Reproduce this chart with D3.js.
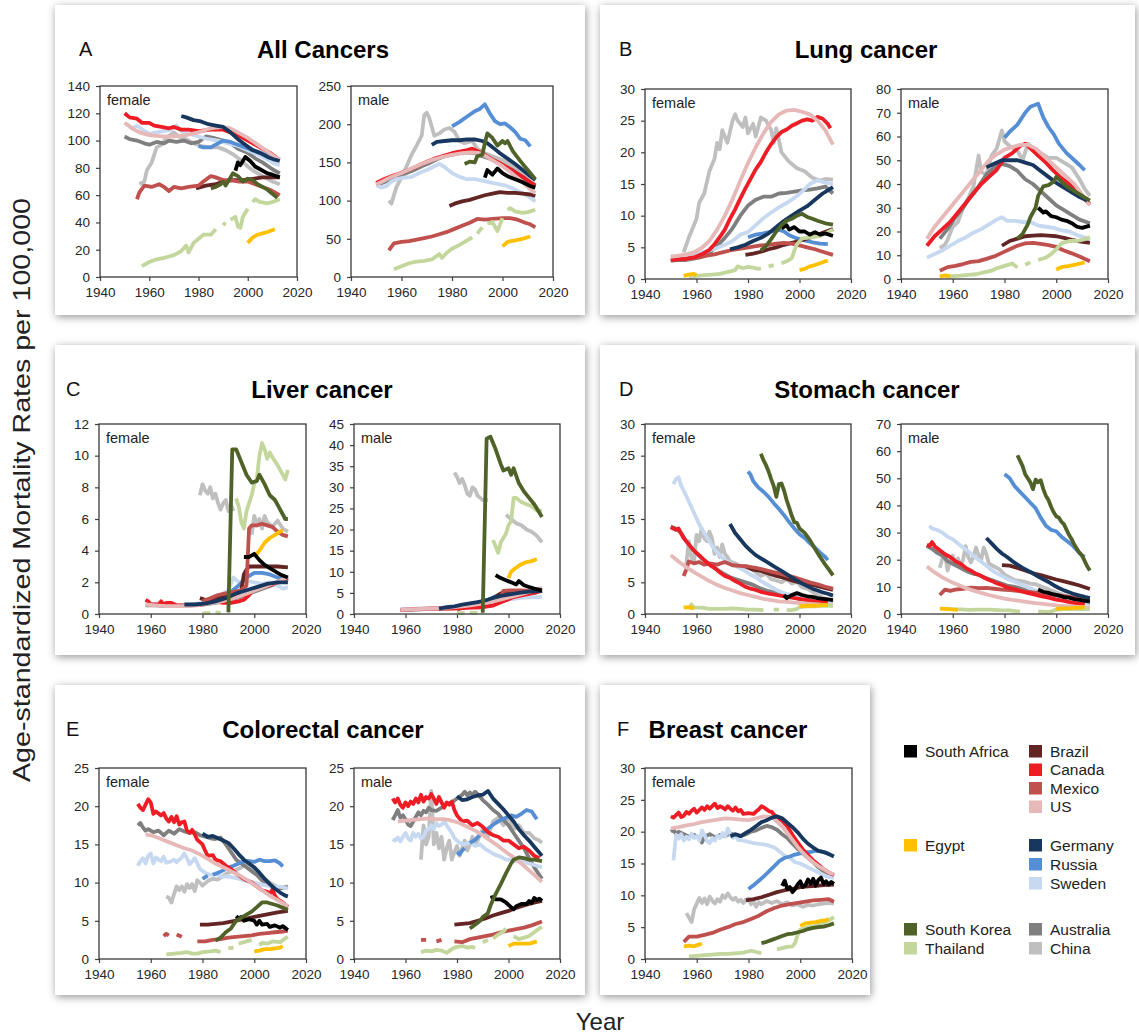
<!DOCTYPE html>
<html>
<head>
<meta charset="utf-8">
<script src="https://cdn.jsdelivr.net/npm/d3@7"></script>
<style>
  body { margin: 0; background: #ffffff; }
  svg { display: block; }
  text { font-family: "Liberation Sans", Arial, Helvetica, sans-serif; }
</style>
</head>
<body>
<svg id="chart" width="1139" height="1035"></svg>
<script>
// ---------------------------------------------------------------
// Countries, colours and shared axis ticks
// ---------------------------------------------------------------
const countries = ["South Africa", "Egypt", "South Korea", "Thailand",
                   "Brazil", "Canada", "Mexico", "US",
                   "Germany", "Russia", "Sweden", "Australia", "China"];
const countryColors = ["#000000", "#ffc000", "#4f6228", "#c3d69b",
                       "#632523", "#ee1c25", "#c0504d", "#e6b9b8",
                       "#17375e", "#558ed5", "#c6d9f1", "#7f7f7f", "#bfbfbf"];
const yearTicks = [1940, 1960, 1980, 2000, 2020];

const ticksAllFemale = [0, 20, 40, 60, 80, 100, 120, 140];
const ticksAllMale = [0, 50, 100, 150, 200, 250];
const ticksLungFemale = [0, 5, 10, 15, 20, 25, 30];
const ticksLungMale = [0, 10, 20, 30, 40, 50, 60, 70, 80];
const ticksLiverFemale = [0, 2, 4, 6, 8, 10, 12];
const ticksLiverMale = [0, 5, 10, 15, 20, 25, 30, 35, 40, 45];
const ticksStomachFemale = [0, 5, 10, 15, 20, 25, 30];
const ticksStomachMale = [0, 10, 20, 30, 40, 50, 60, 70];
const ticksColorectal = [0, 5, 10, 15, 20, 25];
const ticksBreast = [0, 5, 10, 15, 20, 25, 30];

// Series are flat [year, rate, year, rate, ...]; a null rate marks a gap.
// ---------------------------------------------------------------
// A. All cancers
// ---------------------------------------------------------------
const allFemale = {
  "South Africa": [1995,78, 1996,84, 1997,82, 1999,88, 2001,85, 2003,81, 2005,79, 2008,76, 2010,75, 2013,73],
  "Egypt": [2000,25, 2002,29, 2004,31, 2006,32, 2008,33, 2011,35],
  "South Korea": [1985,65, 1987,66, 1989,68, 1990,70, 1991,67, 1993,73, 1994,76, 1996,74, 1998,70, 2000,72, 2002,71, 2004,68, 2006,66, 2008,64, 2010,61, 2012,58],
  "Thailand": [1957,8, 1960,11, 1963,13, 1966,14, 1968,15, 1970,16, 1973,19, 1975,23, 1976,18, 1978,25, 1980,28, 1982,31, 1985,31, 1987,35, 1988,null, 1990,38, 1991,40, 1992,null, 1993,42, 1995,44, 1996,37, 1997,36, 1998,44, 2000,50, 2001,null, 2002,55, 2003,57, 2005,55, 2008,54, 2010,55, 2013,57],
  "Brazil": [1979,65, 1983,67, 1987,68, 1990,70, 1994,71, 1998,71, 2002,72, 2006,73, 2010,73, 2013,73],
  "Canada": [1950,120, 1952,117, 1955,116, 1957,113, 1960,113, 1962,111, 1965,110, 1968,109, 1970,110, 1973,108, 1976,108, 1980,107, 1985,108, 1990,108, 1993,106, 1996,104, 2000,100, 2003,97, 2006,94, 2009,91, 2012,87],
  "Mexico": [1955,57, 1956,62, 1958,67, 1961,66, 1964,68, 1966,66, 1968,63, 1970,66, 1973,65, 1976,66, 1980,67, 1982,70, 1985,74, 1987,73, 1990,71, 1993,71, 1996,70, 2000,70, 2003,68, 2006,66, 2009,64, 2013,60],
  "US": [1950,113, 1953,109, 1956,106, 1960,104, 1965,103, 1970,103, 1975,104, 1980,106, 1985,109, 1990,110, 1993,109, 1996,106, 2000,102, 2004,97, 2008,92, 2011,88, 2013,86],
  "Germany": [1973,118, 1975,117, 1978,115, 1981,114, 1984,112, 1987,111, 1990,110, 1993,106, 1996,101, 1999,97, 2002,93, 2005,91, 2008,88, 2011,86, 2013,85],
  "Russia": [1980,96, 1982,95, 1985,95, 1987,97, 1990,100, 1993,99, 1996,97, 1999,95, 2002,93, 2005,91, 2008,89, 2011,88, 2013,86],
  "Sweden": [1951,112, 1953,109, 1955,111, 1958,107, 1960,105, 1963,106, 1966,107, 1969,108, 1971,111, 1973,107, 1976,105, 1980,103, 1984,101, 1988,100, 1992,98, 1996,96, 2000,93, 2004,90, 2008,86, 2011,83, 2013,82],
  "Australia": [1950,103, 1952,101, 1955,100, 1958,98, 1960,97, 1963,99, 1966,98, 1968,100, 1971,99, 1974,100, 1977,98, 1980,99, 1983,103, 1986,102, 1990,100, 1993,98, 1996,94, 2000,91, 2003,87, 2006,84, 2010,79, 2013,76],
  "China": [1956,68, 1958,70, 1959,78, 1961,84, 1963,95, 1965,97, 1967,102, 1970,106, 1972,103, 1975,101, 1978,98, 1981,96, 1985,95, 1988,95, 1991,93, 1994,90, 1997,86, 2000,81, 2003,77, 2006,74, 2010,70, 2013,68]
};
const allMale = {
  "South Africa": [1993,130, 1994,140, 1996,134, 1998,142, 2000,136, 2002,132, 2005,128, 2008,124, 2011,119, 2013,117],
  "Egypt": [2000,40, 2002,46, 2005,48, 2008,50, 2011,53],
  "South Korea": [1985,148, 1987,151, 1989,150, 1990,158, 1992,160, 1993,175, 1994,188, 1996,182, 1998,172, 2000,178, 2001,175, 2002,178, 2004,165, 2007,152, 2010,140, 2013,128],
  "Thailand": [1957,10, 1960,14, 1963,18, 1966,20, 1969,21, 1972,23, 1975,30, 1976,25, 1978,32, 1980,37, 1983,42, 1985,46, 1988,52, 1989,null, 1990,57, 1992,65, 1993,null, 1994,70, 1996,72, 1998,60, 2000,77, 2001,null, 2002,88, 2003,90, 2005,86, 2008,84, 2010,85, 2013,88],
  "Brazil": [1979,93, 1981,96, 1984,99, 1987,101, 1990,104, 1993,107, 1996,109, 1999,111, 2002,110, 2005,110, 2008,109, 2011,108, 2013,106],
  "Canada": [1950,123, 1953,128, 1956,132, 1959,135, 1962,139, 1965,143, 1968,148, 1971,152, 1974,156, 1977,159, 1980,162, 1983,164, 1986,166, 1988,168, 1990,165, 1993,160, 1996,154, 1999,149, 2002,143, 2005,137, 2008,131, 2011,124, 2013,120],
  "Mexico": [1955,35, 1957,44, 1960,46, 1963,47, 1966,49, 1969,51, 1972,53, 1975,56, 1978,59, 1981,63, 1984,67, 1987,71, 1990,76, 1993,75, 1996,76, 2000,77, 2003,77, 2006,75, 2009,71, 2011,69, 2013,65],
  "US": [1950,121, 1953,126, 1956,131, 1960,136, 1964,142, 1968,148, 1972,153, 1976,157, 1980,160, 1984,162, 1988,163, 1991,162, 1994,157, 1997,151, 2000,145, 2004,135, 2008,124, 2011,115, 2013,110],
  "Germany": [1972,173, 1974,177, 1977,178, 1980,179, 1983,179, 1986,180, 1989,180, 1992,178, 1994,175, 1996,170, 1999,162, 2002,155, 2005,148, 2008,140, 2011,132, 2013,127],
  "Russia": [1980,197, 1983,203, 1986,210, 1989,217, 1991,220, 1993,226, 1995,214, 1997,204, 1999,200, 2001,201, 2003,196, 2005,190, 2007,181, 2009,179, 2011,171],
  "Sweden": [1950,120, 1952,117, 1954,119, 1956,125, 1958,128, 1961,130, 1964,131, 1967,136, 1970,140, 1973,145, 1975,148, 1977,144, 1980,136, 1983,131, 1986,128, 1989,128, 1992,126, 1995,124, 1998,122, 2001,120, 2004,116, 2007,111, 2010,106, 2013,99],
  "Australia": [1950,120, 1953,124, 1956,128, 1959,131, 1962,136, 1965,140, 1968,145, 1971,149, 1974,154, 1977,158, 1980,160, 1983,162, 1986,163, 1989,162, 1992,158, 1995,155, 1998,150, 2001,145, 2004,140, 2007,133, 2010,125, 2013,118],
  "China": [1955,100, 1956,96, 1958,118, 1960,130, 1962,145, 1964,160, 1966,172, 1968,185, 1969,212, 1970,215, 1971,208, 1973,185, 1975,188, 1977,193, 1979,195, 1981,190, 1983,178, 1985,175, 1988,178, 1990,168, 1993,162, 1996,158, 2000,153, 2004,145, 2008,134, 2011,125, 2013,120]
};

// ---------------------------------------------------------------
// B. Lung cancer
// ---------------------------------------------------------------
const lungFemale = {
  "South Africa": [1993,8, 1995,8.5, 1996,7.8, 1998,8.2, 2000,7.5, 2002,7.5, 2004,7.0, 2006,7.4, 2008,7.0, 2010,7.2, 2013,6.8],
  "Egypt": [1955,0.5, 1957,0.7, 1959,0.8, 1960,0.6, 1961,null, 2000,1.4, 2002,1.6, 2004,2.0, 2006,2.2, 2008,2.5, 2010,2.8, 2011,2.9],
  "South Korea": [1985,4.5, 1987,5.2, 1989,6.3, 1991,7.5, 1993,8.5, 1995,9.2, 1997,9.5, 1999,10, 2001,10.3, 2003,9.8, 2005,9.5, 2007,9.2, 2010,8.8, 2013,8.6],
  "Thailand": [1957,0.3, 1960,0.5, 1963,0.6, 1966,0.7, 1969,0.8, 1972,1.1, 1975,1.4, 1976,2.0, 1978,1.7, 1980,1.9, 1982,1.8, 1984,1.6, 1985,1.7, 1986,null, 1988,2.0, 1990,2.2, 1991,null, 1993,2.5, 1995,2.8, 1997,3.3, 1998,4.5, 1999,5.5, 2001,6.4, 2003,6.5, 2005,6.6, 2008,6.8, 2010,7.2, 2013,7.8],
  "Brazil": [1979,3.8, 1982,4.0, 1985,4.3, 1988,4.7, 1991,5.0, 1994,5.4, 1997,5.7, 2000,6.0, 2003,6.4, 2006,6.8, 2009,7.3, 2013,7.9],
  "Canada": [1950,3.0, 1953,3.1, 1956,3.2, 1959,3.4, 1962,3.9, 1965,4.6, 1967,5.5, 1969,6.6, 1971,7.8, 1973,9.5, 1975,11.0, 1977,12.7, 1979,14.3, 1981,15.8, 1983,17.3, 1985,18.5, 1987,20.0, 1989,21.3, 1991,22.4, 1993,23.2, 1995,23.6, 1997,24.2, 1999,24.6, 2001,25.0, 2003,25.2, 2005,25.0, 2007,25.6, 2009,25.3, 2011,24.5, 2012,23.8],
  "Mexico": [1955,3.0, 1958,3.3, 1961,3.4, 1964,3.7, 1967,3.9, 1970,4.2, 1973,4.5, 1976,4.7, 1979,4.9, 1982,5.1, 1985,5.3, 1988,5.4, 1991,5.6, 1994,5.7, 1997,5.6, 2000,5.3, 2003,5.0, 2006,4.7, 2009,4.3, 2013,3.8],
  "US": [1950,3.5, 1953,3.7, 1956,3.9, 1959,4.2, 1962,4.9, 1965,6.0, 1968,7.8, 1971,10.0, 1974,12.6, 1977,15.5, 1980,18.3, 1983,20.8, 1986,23.0, 1989,24.8, 1992,26.0, 1995,26.6, 1998,26.7, 2001,26.4, 2004,26.0, 2007,25.0, 2010,23.5, 2013,21.2],
  "Germany": [1973,4.7, 1976,5.0, 1979,5.4, 1982,6.0, 1985,6.5, 1988,7.2, 1991,8.2, 1994,9.2, 1997,10.0, 2000,10.8, 2003,11.5, 2006,12.5, 2009,13.5, 2011,14.0, 2013,14.5],
  "Russia": [1980,6.6, 1983,7.0, 1986,7.2, 1989,7.5, 1992,7.8, 1994,7.5, 1996,6.9, 1999,6.4, 2002,6.1, 2005,5.8, 2008,5.6, 2011,5.5],
  "Sweden": [1950,3.6, 1953,3.5, 1956,3.8, 1959,4.0, 1962,4.2, 1965,4.5, 1968,4.9, 1971,5.4, 1974,6.0, 1977,7.0, 1980,7.4, 1983,8.5, 1986,9.6, 1989,10.5, 1992,11.3, 1995,12.0, 1998,12.8, 2001,13.8, 2004,15.0, 2007,15.6, 2010,15.2, 2013,15.0],
  "Australia": [1950,2.9, 1953,3.0, 1956,3.0, 1959,3.2, 1962,3.5, 1965,4.1, 1968,5.2, 1971,6.5, 1974,8.0, 1977,10.0, 1980,11.6, 1983,12.5, 1986,13.0, 1989,13.0, 1992,13.5, 1995,13.6, 1998,13.8, 2001,14.0, 2004,14.1, 2007,14.3, 2010,14.6, 2013,13.5],
  "China": [1955,4.2, 1957,6.5, 1958,7.5, 1960,9.5, 1961,12, 1963,13.5, 1965,17, 1967,19, 1968,21.5, 1969,20.5, 1970,23.5, 1972,21.5, 1974,25, 1975,26, 1976,25, 1978,24, 1979,25.5, 1980,23, 1982,24.5, 1983,22.5, 1985,25.5, 1987,25, 1989,23.5, 1990,21.5, 1991,23.8, 1993,20, 1996,18.5, 1999,17.5, 2002,17, 2005,16, 2008,15.5, 2010,15.8, 2013,15.7]
};
const lungMale = {
  "South Africa": [1993,30, 1995,28, 1996,28.5, 1998,26.5, 2000,26, 2002,25, 2004,24.5, 2006,23.5, 2008,22, 2010,21.5, 2013,22.5],
  "Egypt": [1955,1.0, 1957,1.5, 1959,1.2, 1960,null, 2000,4.0, 2002,5.0, 2005,5.5, 2008,6.2, 2011,7.0],
  "South Korea": [1985,17, 1987,19, 1989,23, 1990,26, 1992,30, 1993,35, 1995,39, 1997,39.5, 1999,41, 2000,43, 2002,41, 2004,39, 2007,37, 2010,35, 2013,33],
  "Thailand": [1957,1.0, 1960,1.2, 1963,1.4, 1966,1.7, 1969,2.0, 1972,2.8, 1975,3.5, 1977,4.5, 1980,5.5, 1983,6.5, 1985,4.8, 1986,null, 1988,6.0, 1990,7.0, 1991,null, 1993,8.0, 1996,9.0, 1998,10.5, 2000,12.5, 2002,15, 2005,16, 2008,16, 2010,16.5, 2013,17.5],
  "Brazil": [1979,14, 1982,16, 1985,17, 1988,18, 1991,18.3, 1994,18.5, 1997,18.3, 2000,18, 2003,17.3, 2006,16.5, 2009,15.8, 2013,15.2],
  "Canada": [1950,14, 1953,18, 1956,21, 1959,24, 1962,28, 1965,32, 1968,36, 1971,40, 1974,43, 1977,46, 1980,51, 1983,53, 1986,56, 1988,57, 1990,55, 1993,52, 1996,49, 1999,45.5, 2002,42.5, 2005,40, 2008,36.5, 2011,33.5, 2013,31.5],
  "Mexico": [1955,3.5, 1958,5, 1961,5.5, 1964,6.3, 1967,7.2, 1970,7.5, 1973,8.5, 1976,9.5, 1979,11, 1982,12.5, 1985,14, 1988,15, 1991,15.2, 1994,14.8, 1997,14.3, 2000,13.5, 2003,12, 2006,10.8, 2009,9.5, 2013,7.5],
  "US": [1950,17, 1953,22, 1956,26, 1959,30, 1962,34, 1965,38, 1968,42, 1971,46, 1974,50, 1977,52.5, 1980,54.5, 1983,55.5, 1986,56.5, 1989,56.5, 1992,55, 1995,52, 1998,49, 2001,46, 2004,43, 2007,40, 2010,35.5, 2013,31],
  "Germany": [1973,47, 1976,48.5, 1979,50, 1982,50, 1985,50, 1988,49, 1991,48, 1994,45.5, 1997,43, 2000,40.5, 2003,38.5, 2006,36.5, 2009,34.5, 2012,33],
  "Russia": [1980,59.5, 1982,62, 1985,65, 1988,70, 1990,72.5, 1993,73.8, 1995,68, 1997,64, 1999,61, 2001,57, 2004,53, 2007,50, 2009,48, 2011,45.8],
  "Sweden": [1950,9, 1953,10.5, 1956,12, 1959,14, 1962,16, 1965,17.5, 1968,19.5, 1971,21, 1974,23, 1977,25, 1979,26, 1981,24.5, 1984,24.5, 1987,24, 1990,24, 1993,22.5, 1996,22, 1999,21.5, 2002,20.5, 2005,20, 2008,18.5, 2011,17.5, 2013,16.5],
  "Australia": [1955,17, 1958,21, 1961,26, 1964,30, 1967,35, 1970,39, 1973,44, 1976,47, 1979,48.5, 1982,47.5, 1985,45.5, 1988,42, 1991,40, 1994,37, 1997,34, 2000,31, 2003,29, 2006,27, 2009,25, 2013,23.5],
  "China": [1955,13, 1957,14.5, 1958,16.5, 1960,22, 1962,24, 1964,30, 1966,34, 1968,39, 1970,52, 1971,45, 1973,44, 1975,52, 1977,55, 1979,62.5, 1980,58, 1982,56, 1985,54, 1987,50, 1989,57, 1991,55, 1994,53, 1997,51, 2000,51, 2003,49, 2006,47, 2009,42, 2011,38, 2013,35]
};

// ---------------------------------------------------------------
// C. Liver cancer
// ---------------------------------------------------------------
const liverFemale = {
  "South Africa": [1996,3.6, 1998,3.6, 2000,3.8, 2002,3.4, 2004,3.1, 2006,2.9, 2008,2.7, 2010,2.5, 2013,2.3],
  "Egypt": [2000,3.6, 2002,4.0, 2004,4.5, 2006,4.8, 2008,5.0, 2010,5.2, 2011,5.3],
  "South Korea": [1990,0.1, 1991.5,10.4, 1993,10.4, 1995,9.6, 1997,8.8, 1999,8.3, 2001,8.4, 2002,8.8, 2004,8.2, 2006,7.5, 2008,7.2, 2010,6.6, 2012,6.0, 2013,6.0],
  "Thailand": [1980,0.05, 1983,0.05, 1984,null, 1985,0.1, 1987,0.05, 1988,null, 1993,7.3, 1994,6.8, 1995,5.8, 1996,5.4, 1997,6.5, 1998,7.0, 1999,7.5, 2000,8.2, 2001,8.5, 2002,10.0, 2003,10.8, 2004,10.4, 2005,9.8, 2006,10.2, 2007,9.9, 2009,9.4, 2011,8.8, 2012,8.5, 2013,9.1],
  "Brazil": [1979,1.0, 1981,0.9, 1983,0.8, 1985,1.0, 1988,1.1, 1991,1.2, 1994,1.3, 1995,1.5, 1996,2.5, 1997,2.8, 1998,3.0, 2000,3.0, 2003,3.0, 2006,3.0, 2009,3.0, 2013,2.95],
  "Canada": [1958,0.9, 1959,0.8, 1960,0.6, 1963,0.6, 1964,0.8, 1965,0.6, 1966,0.7, 1968,0.7, 1970,0.55, 1975,0.55, 1980,0.6, 1985,0.8, 1988,0.7, 1991,0.7, 1994,0.8, 1996,0.9, 1998,1.2, 2000,1.6, 2003,1.7, 2006,1.8, 2009,2.0, 2013,2.3],
  "Mexico": [1980,0.8, 1983,1.0, 1986,1.2, 1989,1.3, 1992,1.4, 1995,1.5, 1997,1.8, 1998,5.4, 1999,5.6, 2001,5.6, 2003,5.7, 2005,5.6, 2007,5.5, 2009,5.2, 2011,5.0, 2013,4.9],
  "US": [1958,0.6, 1962,0.55, 1966,0.5, 1970,0.5, 1974,0.5, 1978,0.55, 1982,0.65, 1986,0.75, 1990,0.9, 1994,1.1, 1998,1.35, 2002,1.6, 2006,1.85, 2010,2.1, 2013,2.35],
  "Germany": [1973,0.6, 1977,0.6, 1981,0.65, 1985,0.8, 1989,1.0, 1993,1.3, 1997,1.5, 2001,1.7, 2005,1.9, 2009,2.0, 2013,2.0],
  "Russia": [1980,0.7, 1984,0.9, 1988,1.1, 1991,1.4, 1994,1.8, 1997,2.3, 2000,2.6, 2003,2.6, 2006,2.5, 2009,2.3, 2011,2.2],
  "Sweden": [1958,0.7, 1960,0.6, 1962,0.65, 1965,0.6, 1970,0.55, 1975,0.6, 1980,0.7, 1984,0.9, 1987,1.2, 1990,1.5, 1992,2.3, 1994,2.0, 1997,2.1, 2000,2.0, 2003,1.9, 2006,2.0, 2009,1.8, 2011,1.6, 2013,1.7],
  "Australia": [1958,0.55, 1962,0.55, 1966,0.5, 1970,0.5, 1975,0.55, 1980,0.6, 1985,0.7, 1990,0.85, 1995,1.1, 2000,1.4, 2005,1.7, 2010,2.0, 2013,2.2],
  "China": [1979,7.5, 1980,8.2, 1981,7.8, 1982,7.6, 1983,8.0, 1984,7.3, 1985,7.6, 1986,7.0, 1987,6.6, 1988,7.0, 1989,7.2, 1990,6.5, 1991,6.9, 1992,6.5, 1993,null, 1999,5.0, 2000,6.2, 2001,5.6, 2002,6.0, 2003,5.4, 2004,6.2, 2005,5.8, 2007,5.5, 2009,5.9, 2011,5.4, 2013,5.2]
};
const liverMale = {
  "South Africa": [1995,9.2, 1997,8.5, 1999,8.0, 2001,7.5, 2003,7.0, 2004,7.8, 2006,6.8, 2008,6.4, 2010,6.0, 2013,5.6],
  "Egypt": [2000,8.5, 2001,10, 2003,11, 2005,11.8, 2007,12.3, 2009,12.5, 2011,13],
  "South Korea": [1990,0.3, 1991.5,41.5, 1993,42, 1995,39, 1997,35.5, 1998,34, 2000,34.5, 2001,33, 2002,34.5, 2004,31, 2006,29, 2008,27.5, 2010,26, 2013,23],
  "Thailand": [1980,0.2, 1983,0.2, 1984,null, 1985,0.3, 1988,0.2, 1989,null, 1994,17.5, 1996,14.5, 1997,17, 1999,19, 2000,21, 2001,22, 2002,27.5, 2003,27.5, 2005,26.5, 2007,26, 2009,25.5, 2011,24.5, 2013,24.5],
  "Brazil": [1979,1.5, 1983,2.0, 1987,2.5, 1991,3.0, 1994,3.5, 1996,4.5, 1998,5.2, 2001,5.5, 2005,5.5, 2009,5.5, 2013,5.5],
  "Canada": [1958,1.0, 1962,1.1, 1966,1.2, 1970,1.3, 1974,1.3, 1978,1.3, 1982,1.4, 1986,1.5, 1990,1.6, 1994,2.0, 1998,3.0, 2002,4.0, 2006,4.5, 2010,5.0, 2013,5.5],
  "Mexico": [1980,1.0, 1983,1.6, 1986,2.0, 1989,2.5, 1992,2.8, 1995,3.2, 1997,3.8, 1998,5.5, 2001,5.6, 2005,5.6, 2009,5.5, 2013,5.4],
  "US": [1958,1.0, 1962,1.1, 1966,1.2, 1970,1.3, 1974,1.4, 1978,1.6, 1982,1.8, 1986,2.1, 1990,2.5, 1994,3.0, 1998,3.6, 2002,4.2, 2006,4.9, 2010,5.6, 2013,6.2],
  "Germany": [1973,1.3, 1976,1.6, 1979,1.8, 1982,2.2, 1985,2.5, 1988,2.8, 1991,3.2, 1994,3.8, 1997,4.3, 2000,4.6, 2004,5.0, 2008,5.3, 2013,5.5],
  "Russia": [1980,1.5, 1983,2.0, 1986,2.5, 1989,2.8, 1992,3.3, 1995,4.2, 1998,4.8, 2001,5.2, 2004,5.4, 2008,5.3, 2011,5.0],
  "Sweden": [1958,1.2, 1962,1.2, 1966,1.3, 1970,1.3, 1975,1.4, 1980,1.6, 1985,2.0, 1990,2.5, 1995,3.0, 2000,3.4, 2005,3.8, 2010,4.0, 2013,4.0],
  "Australia": [1958,1.0, 1962,1.0, 1966,1.1, 1970,1.2, 1975,1.3, 1980,1.4, 1985,1.7, 1990,2.2, 1995,2.8, 2000,3.5, 2005,4.4, 2010,5.1, 2013,5.6],
  "China": [1979,33.5, 1980,32.5, 1981,31, 1982,32, 1983,30.5, 1984,28.5, 1985,28, 1986,30, 1987,29.5, 1988,28, 1989,27.5, 1990,27, 1991,27, 1992,27, 1993,null, 1999,23.5, 2001,22.5, 2003,21.5, 2005,21, 2007,20, 2009,19.5, 2011,18.5, 2013,17]
};

// ---------------------------------------------------------------
// D. Stomach cancer
// ---------------------------------------------------------------
const stomachFemale = {
  "South Africa": [1994,3.0, 1995,2.5, 1997,3.0, 1999,3.3, 2001,3.0, 2003,2.8, 2005,2.7, 2007,2.5, 2009,2.4, 2011,2.3, 2013,2.2],
  "Egypt": [1955,1.0, 1957,1.1, 1959,0.9, 1960,null, 2000,1.2, 2003,1.3, 2006,1.3, 2009,1.4, 2011,1.4],
  "South Korea": [1985,25.3, 1986,24.3, 1987,23.5, 1988,22.5, 1989,21.3, 1990,20.2, 1991,18.5, 1992,20.5, 1993,20.6, 1994,19.5, 1995,18, 1996,16.8, 1997,15.5, 1998,14.5, 1999,14.4, 2000,13.5, 2002,12.8, 2004,11.7, 2006,10.3, 2008,9, 2010,7.8, 2012,6.7, 2013,6.1],
  "Thailand": [1957,0.8, 1958,1.5, 1959,1.0, 1962,1.0, 1965,0.8, 1968,0.8, 1971,0.8, 1974,0.9, 1977,0.8, 1980,0.7, 1983,0.7, 1986,0.6, 1987,null, 1990,0.7, 1992,0.7, 1993,null, 1995,0.6, 1997,0.6, 1999,0.8, 2000,1.1, 2003,1.2, 2006,1.2, 2009,1.3, 2013,1.3],
  "Brazil": [1979,7.5, 1982,7.0, 1985,6.8, 1988,6.4, 1991,6.0, 1994,5.7, 1997,5.3, 2000,5.0, 2003,4.8, 2006,4.5, 2009,4.2, 2013,3.8],
  "Canada": [1950,13.7, 1952,13.3, 1953,13.5, 1955,12.0, 1957,11.0, 1959,10.0, 1961,9.3, 1963,8.5, 1965,7.8, 1967,7.3, 1969,6.6, 1971,6.0, 1973,5.7, 1975,5.2, 1977,4.8, 1979,4.3, 1981,4.0, 1983,3.8, 1985,3.5, 1988,3.2, 1991,3.0, 1994,2.8, 1997,2.6, 2000,2.4, 2003,2.2, 2006,2.0, 2009,1.9, 2011,1.8],
  "Mexico": [1955,6.0, 1956,7.0, 1957,8.3, 1959,8.0, 1961,8.2, 1963,7.8, 1965,8.0, 1968,7.8, 1971,8.2, 1974,7.7, 1977,7.6, 1980,7.5, 1983,7.3, 1986,7.0, 1989,6.7, 1992,6.4, 1995,6.1, 1998,5.8, 2001,5.4, 2004,5.0, 2007,4.7, 2010,4.3, 2013,4.0],
  "US": [1950,9.3, 1953,8.3, 1956,7.4, 1959,6.6, 1962,5.9, 1965,5.2, 1968,4.6, 1971,4.1, 1974,3.7, 1977,3.3, 1980,3.0, 1983,2.7, 1986,2.4, 1989,2.2, 1992,2.0, 1995,1.9, 1998,1.8, 2001,1.7, 2004,1.6, 2007,1.5, 2010,1.4, 2013,1.4],
  "Germany": [1973,14.2, 1975,12.8, 1977,11.8, 1979,10.8, 1981,10.0, 1983,9.3, 1985,8.8, 1987,8.3, 1989,7.8, 1991,7.3, 1993,6.8, 1995,6.3, 1997,5.8, 1999,5.3, 2001,4.8, 2003,4.4, 2005,4.0, 2007,3.7, 2009,3.4, 2011,3.2, 2013,2.9],
  "Russia": [1980,22.5, 1981,22.0, 1982,21.0, 1984,20.0, 1986,19.3, 1988,18.5, 1990,17.5, 1992,16.6, 1994,15.6, 1996,14.5, 1998,13.5, 2000,12.6, 2002,12.0, 2004,11.2, 2006,10.5, 2008,9.7, 2010,9.0, 2011,8.5],
  "Sweden": [1951,20.5, 1952,21.3, 1953,21.6, 1954,20.3, 1955,19.5, 1957,17.8, 1959,16.0, 1961,14.2, 1963,12.8, 1965,11.5, 1967,10.2, 1969,9.3, 1971,8.5, 1973,8.0, 1975,7.6, 1977,7.2, 1979,6.8, 1981,6.2, 1983,5.8, 1985,5.2, 1988,4.5, 1991,3.8, 1994,3.3, 1997,3.0, 2000,2.7, 2003,2.4, 2006,2.1, 2009,1.9, 2013,1.7],
  "Australia": [1950,13.8, 1952,13.5, 1954,12.8, 1956,11.5, 1958,10.5, 1960,9.6, 1962,8.8, 1964,8.2, 1966,7.5, 1968,7.0, 1970,6.5, 1973,5.8, 1976,5.4, 1979,5.0, 1982,4.6, 1985,4.0, 1988,3.6, 1991,3.3, 1994,3.0, 1997,2.7, 2000,2.4, 2003,2.2, 2006,2.0, 2010,1.8, 2013,1.7],
  "China": [1956,7.8, 1957,11.5, 1958,9.0, 1959,8.0, 1960,12.5, 1961,11.5, 1962,13.5, 1963,12.0, 1964,11.5, 1965,13.0, 1966,12.0, 1967,9.5, 1968,10.5, 1969,9.0, 1970,11.0, 1971,9.5, 1972,9.0, 1973,8.3, 1975,8.0, 1977,7.5, 1979,7.6, 1981,7.2, 1983,6.6, 1985,6.0, 1987,6.4, 1989,5.5, 1991,5.3, 1993,5.0, 1995,5.5, 1997,4.8, 1999,5.1, 2001,4.2, 2003,4.0, 2005,3.5, 2007,3.0, 2009,2.6, 2011,2.3, 2013,2.0]
};
const stomachMale = {
  "South Africa": [1993,9.0, 1995,8.2, 1997,7.8, 1999,7.2, 2001,6.8, 2003,6.2, 2005,6.0, 2007,5.5, 2009,5.2, 2011,4.8, 2013,4.6],
  "Egypt": [1955,2.0, 1957,1.9, 1959,1.7, 1962,1.5, 1963,null, 2000,2.0, 2003,2.1, 2006,2.2, 2009,2.4, 2011,2.5],
  "South Korea": [1985,58.5, 1986,56.5, 1987,54.5, 1988,51.5, 1989,50, 1990,48.5, 1991,46, 1992,49.5, 1993,48.5, 1994,49.3, 1995,46, 1996,43.5, 1997,42, 1998,39.5, 1999,37.5, 2000,36, 2001,35.5, 2002,34, 2003,33, 2004,31, 2005,29, 2006,27.5, 2007,25.5, 2008,24, 2009,22.5, 2010,21.5, 2011,19.5, 2012,17.5, 2013,16],
  "Thailand": [1957,1.5, 1958,2.0, 1960,1.8, 1963,1.7, 1966,1.5, 1970,1.6, 1974,1.6, 1978,1.4, 1982,1.3, 1986,0.9, 1987,null, 1990,1.0, 1991,null, 1993,1.0, 1996,0.8, 1998,0.9, 2000,1.6, 2003,1.8, 2006,1.8, 2010,1.8, 2013,1.8],
  "Brazil": [1979,18, 1982,17.8, 1985,17, 1988,16, 1991,15, 1994,14.3, 1997,13.5, 2000,12.7, 2003,12, 2006,11.3, 2009,10.5, 2013,9.2],
  "Canada": [1950,25.5, 1951,25, 1952,26.5, 1953,25, 1955,23.5, 1957,22, 1959,21, 1961,19.5, 1963,18.5, 1965,17, 1967,16, 1969,14.8, 1971,14, 1973,13, 1975,12.2, 1977,11.3, 1979,10.7, 1981,9.8, 1983,9.4, 1985,8.8, 1988,8.0, 1991,7.3, 1994,6.6, 1997,6.0, 2000,5.3, 2003,4.8, 2006,4.2, 2009,3.8, 2011,3.5],
  "Mexico": [1955,7.0, 1956,8.0, 1957,9.0, 1959,8.5, 1961,9.0, 1964,9.3, 1967,9.7, 1970,9.5, 1973,9.6, 1976,9.3, 1979,9.0, 1982,8.8, 1985,8.5, 1988,8.2, 1991,8.0, 1994,7.6, 1997,7.3, 2000,7.0, 2003,6.6, 2006,6.2, 2009,5.8, 2013,5.5],
  "US": [1950,17.5, 1953,15.3, 1956,13.5, 1959,12.0, 1962,10.8, 1965,9.6, 1968,8.6, 1971,7.8, 1974,7.0, 1977,6.3, 1980,5.7, 1983,5.2, 1986,4.8, 1989,4.4, 1992,4.0, 1995,3.7, 1998,3.4, 2001,3.1, 2004,2.9, 2007,2.7, 2010,2.5, 2013,2.4],
  "Germany": [1973,28, 1975,26, 1977,24, 1979,22.3, 1981,21, 1983,19.5, 1985,18.2, 1987,17, 1989,16, 1991,15, 1993,13.8, 1995,12.8, 1997,11.8, 1999,10.6, 2001,9.6, 2003,8.7, 2005,8.0, 2007,7.3, 2009,6.8, 2011,6.3, 2013,5.9],
  "Russia": [1980,51.5, 1981,50.8, 1982,50, 1984,47, 1986,45, 1988,43, 1990,41, 1992,39, 1994,35.5, 1996,32.5, 1998,31, 2000,30.5, 2002,28.5, 2004,27, 2006,25.5, 2008,23.5, 2010,21.5, 2011,21],
  "Sweden": [1951,32.5, 1952,31.5, 1954,31, 1956,30, 1958,28.5, 1960,27.5, 1962,26, 1964,24.5, 1966,23, 1968,21.5, 1970,20, 1972,18.5, 1974,17, 1976,15.5, 1978,14.5, 1980,13.5, 1982,12.5, 1985,11.5, 1988,10.2, 1991,9.0, 1994,8.0, 1997,7.0, 2000,6.2, 2003,5.5, 2006,4.8, 2009,4.2, 2013,3.8],
  "Australia": [1950,25, 1952,24, 1954,22.5, 1956,21.5, 1958,19.5, 1960,18.5, 1962,17.5, 1964,16.5, 1966,15.5, 1968,14.8, 1970,14.5, 1972,13.5, 1975,12.5, 1978,11.5, 1981,10.5, 1984,10, 1987,9.2, 1990,8.5, 1993,7.8, 1996,7.0, 1999,6.3, 2002,5.6, 2005,5.0, 2008,4.5, 2011,4.1, 2013,3.9],
  "China": [1955,17, 1956,20.5, 1957,22, 1958,16, 1959,19.5, 1960,21.5, 1961,18, 1962,20.5, 1963,17.5, 1964,20, 1965,25, 1966,21, 1967,19, 1968,21, 1969,24.5, 1970,21.5, 1971,20, 1972,24.5, 1973,22, 1974,18.5, 1976,17.5, 1978,16.5, 1980,14.5, 1982,13.5, 1984,12.5, 1986,12.2, 1988,11.8, 1990,11.2, 1992,11, 1994,10.2, 1996,9.5, 1998,8.7, 2000,8, 2002,7.3, 2004,6.6, 2006,6, 2008,5.3, 2010,4.8, 2013,4.0]
};

// ---------------------------------------------------------------
// E. Colorectal cancer
// ---------------------------------------------------------------
const colorectalFemale = {
  "South Africa": [1993,5.6, 1994,5.3, 1995,5.5, 1996,5.0, 1998,5.2, 2000,5.0, 2001,4.5, 2002,5.0, 2003,4.5, 2005,4.6, 2006,4.2, 2008,4.4, 2010,4.1, 2011,4.3, 2013,3.8],
  "Egypt": [2000,1.0, 2002,1.1, 2004,1.3, 2006,1.3, 2008,1.4, 2010,1.5, 2011,1.7],
  "South Korea": [1985,2.4, 1987,2.8, 1989,3.5, 1991,4.0, 1993,5.0, 1995,5.4, 1997,5.8, 1999,6.2, 2001,6.8, 2003,7.4, 2005,7.4, 2007,7.2, 2009,7.0, 2011,6.7, 2013,6.4],
  "Thailand": [1966,0.6, 1969,0.7, 1972,0.8, 1974,0.9, 1976,0.7, 1978,0.7, 1980,0.9, 1983,1.0, 1985,1.1, 1987,0.9, 1988,null, 1990,1.4, 1992,1.5, 1993,null, 1994,2.0, 1997,2.3, 1999,2.5, 2000,null, 2002,1.8, 2003,2.1, 2005,2.0, 2007,2.3, 2010,2.2, 2012,2.7, 2013,2.9],
  "Brazil": [1979,4.5, 1982,4.5, 1985,4.6, 1988,4.7, 1991,4.9, 1994,5.1, 1997,5.3, 2000,5.5, 2003,5.7, 2006,5.9, 2009,6.1, 2013,6.3],
  "Canada": [1955,20.3, 1956,19.8, 1957,19.5, 1958,20.2, 1959,20.9, 1960,20.5, 1961,19.0, 1962,19.3, 1964,18.8, 1965,19.1, 1966,18.4, 1967,18.0, 1968,18.6, 1969,17.9, 1970,18.7, 1971,17.6, 1972,17.9, 1973,18.0, 1974,16.8, 1975,16.5, 1976,16.9, 1977,16.3, 1978,15.6, 1980,15.0, 1981,14.2, 1982,13.5, 1984,13.6, 1985,13.0, 1987,12.8, 1989,12.2, 1991,11.8, 1993,11.2, 1995,10.7, 1997,10.3, 1999,10.0, 2001,9.5, 2003,9.0, 2005,8.8, 2006,8.5, 2007,9.1, 2008,8.3, 2009,7.8, 2011,7.4, 2013,6.8],
  "Mexico": [1965,3.0, 1966,3.3, 1967,3.1, 1968,null, 1970,3.2, 1972,2.9, 1973,null, 1978,2.3, 1981,2.3, 1984,2.5, 1987,2.6, 1990,2.8, 1993,2.9, 1996,3.0, 1999,3.1, 2002,3.3, 2005,3.4, 2008,3.5, 2011,3.6, 2013,3.7],
  "US": [1958,16.3, 1961,16.1, 1964,15.7, 1967,15.3, 1970,14.9, 1973,14.5, 1976,14.2, 1979,13.7, 1982,13.1, 1985,12.5, 1988,12.0, 1991,11.5, 1994,11.0, 1997,10.4, 2000,9.7, 2003,9.0, 2006,8.3, 2009,7.7, 2011,7.3, 2013,6.9],
  "Germany": [1980,16.4, 1982,16.0, 1984,16.1, 1986,15.8, 1988,15.5, 1990,15.2, 1992,14.5, 1994,13.7, 1996,13.0, 1998,12.5, 2000,12.0, 2002,11.3, 2004,10.5, 2006,9.8, 2008,9.2, 2010,8.7, 2012,8.3, 2013,8.2],
  "Russia": [1980,10.5, 1982,10.9, 1983,null, 1984,11.0, 1986,11.3, 1988,11.6, 1990,12.0, 1992,12.2, 1994,12.5, 1996,12.8, 1998,12.8, 2000,12.7, 2002,13.0, 2004,12.8, 2006,12.8, 2008,12.9, 2010,12.5, 2011,12.1],
  "Sweden": [1955,12.2, 1956,12.8, 1957,13.2, 1958,12.5, 1959,13.5, 1960,13.8, 1961,12.5, 1962,13.3, 1963,13.0, 1964,12.8, 1965,13.4, 1966,12.6, 1968,12.8, 1969,13.0, 1970,12.7, 1972,13.3, 1973,13.8, 1974,13.2, 1975,12.4, 1976,12.8, 1977,13.2, 1978,12.5, 1979,11.8, 1981,11.3, 1983,11.0, 1985,11.2, 1987,10.8, 1990,10.8, 1993,10.6, 1996,10.3, 1999,10.1, 2002,9.8, 2005,9.6, 2008,9.5, 2011,9.4, 2013,9.2],
  "Australia": [1955,17.5, 1956,17.8, 1957,17.2, 1958,16.8, 1959,17.0, 1961,16.6, 1963,16.8, 1965,16.2, 1967,16.8, 1969,16.4, 1971,17.0, 1973,16.7, 1975,16.5, 1977,16.6, 1979,16.2, 1981,16.0, 1983,15.8, 1985,15.7, 1987,15.9, 1989,15.0, 1991,14.0, 1993,13.0, 1995,12.5, 1997,12.0, 1999,11.5, 2001,11.0, 2003,10.3, 2005,9.8, 2007,9.5, 2009,9.2, 2011,9.3, 2013,9.4],
  "China": [1966,8.2, 1967,8.0, 1968,7.4, 1969,8.5, 1970,9.5, 1971,9.0, 1972,9.5, 1973,8.8, 1974,9.8, 1975,9.3, 1976,9.8, 1977,8.9, 1978,10.3, 1979,10.0, 1980,9.6, 1982,10.2, 1984,10.5, 1986,10.4, 1988,10.9, 1990,11.3, 1992,11.5, 1994,11.8, 1996,12.2, 1998,12.5, 2000,11.6, 2002,11.0, 2004,10.5, 2006,10.0, 2008,9.6, 2010,9.3, 2013,9.5]
};
const colorectalMale = {
  "South Africa": [1993,8.0, 1994,8.1, 1995,7.8, 1997,7.8, 1999,7.4, 2001,6.8, 2002,6.5, 2003,6.9, 2005,7.2, 2007,7.2, 2008,7.6, 2009,7.3, 2010,8.0, 2011,7.7, 2012,7.9, 2013,7.6],
  "Egypt": [2000,1.7, 2002,2.0, 2004,2.0, 2006,2.0, 2008,2.0, 2010,2.2, 2011,2.3],
  "South Korea": [1985,4.0, 1987,4.5, 1989,5.0, 1990,5.5, 1992,6.0, 1993,7.0, 1995,8.5, 1997,9.8, 1999,11.2, 2001,12.5, 2002,13.0, 2004,13.3, 2006,13.2, 2008,13.0, 2010,13.0, 2013,12.8],
  "Thailand": [1966,0.9, 1968,1.1, 1970,1.0, 1972,1.2, 1974,1.1, 1976,0.8, 1978,1.3, 1980,1.6, 1982,1.7, 1984,1.5, 1986,1.6, 1987,1.4, 1988,null, 1990,2.2, 1992,2.5, 1993,null, 1994,2.7, 1996,3.2, 1998,3.6, 1999,4.0, 2000,null, 2002,3.0, 2004,2.6, 2006,2.8, 2008,3.0, 2010,3.5, 2012,4.0, 2013,4.2],
  "Brazil": [1979,4.5, 1982,4.6, 1985,4.7, 1988,5.0, 1991,5.3, 1994,5.7, 1997,6.0, 2000,6.3, 2003,6.7, 2006,7.0, 2009,7.3, 2013,7.6],
  "Canada": [1955,21.0, 1956,20.5, 1957,21.0, 1958,20.2, 1959,19.8, 1960,20.5, 1961,20.0, 1962,20.6, 1963,20.3, 1964,21.0, 1965,20.5, 1966,21.5, 1967,20.6, 1968,21.2, 1969,21.0, 1970,21.6, 1971,21.0, 1972,20.3, 1973,21.2, 1974,20.5, 1975,19.8, 1976,20.5, 1977,20.2, 1978,20.6, 1979,19.5, 1980,18.8, 1982,18.0, 1984,18.1, 1986,17.5, 1988,17.8, 1990,17.3, 1992,16.6, 1994,16.2, 1996,16.0, 1998,15.5, 2000,15.5, 2002,15.0, 2004,14.5, 2006,14.7, 2008,14.2, 2010,13.5, 2012,13.2],
  "Mexico": [1966,2.5, 1968,2.5, 1969,null, 1972,2.3, 1974,2.5, 1975,null, 1979,2.3, 1982,2.2, 1985,2.6, 1988,2.8, 1991,3.0, 1994,3.2, 1997,3.5, 2000,3.7, 2003,3.9, 2006,4.1, 2009,4.4, 2013,4.9],
  "US": [1957,18.0, 1960,18.1, 1963,18.2, 1966,18.3, 1969,18.4, 1972,18.3, 1975,18.3, 1978,18.1, 1981,17.8, 1984,17.3, 1987,16.8, 1990,16.2, 1993,15.5, 1996,14.8, 1999,14.0, 2002,13.3, 2005,12.5, 2008,11.6, 2011,10.7, 2013,10.1],
  "Germany": [1980,21.3, 1982,20.8, 1984,20.9, 1986,21.2, 1988,21.4, 1990,21.5, 1992,22.0, 1994,21.0, 1996,20.3, 1998,19.6, 2000,18.8, 2002,18.0, 2004,17.0, 2006,16.2, 2008,15.5, 2010,14.7, 2012,13.9, 2013,13.5],
  "Russia": [1980,14.0, 1981,13.7, 1982,14.2, 1983,14.5, 1984,null, 1985,15.2, 1987,15.6, 1989,16.3, 1991,16.8, 1993,17.3, 1995,17.8, 1997,18.2, 1999,18.5, 2001,18.8, 2003,18.6, 2005,19.0, 2007,19.5, 2009,19.3, 2010,18.8, 2011,18.3],
  "Sweden": [1955,15.7, 1956,15.5, 1957,15.9, 1958,15.4, 1959,16.0, 1960,16.5, 1961,15.8, 1962,15.5, 1963,16.5, 1964,16.0, 1965,16.4, 1966,15.8, 1967,16.0, 1968,16.8, 1969,17.0, 1970,17.5, 1971,17.0, 1972,17.8, 1973,17.4, 1974,17.6, 1975,18.0, 1976,17.5, 1977,17.0, 1978,16.5, 1979,15.8, 1981,15.2, 1983,15.0, 1985,15.3, 1987,14.8, 1989,15.0, 1991,14.4, 1993,14.0, 1995,13.6, 1997,13.4, 1999,13.0, 2001,13.0, 2003,12.8, 2005,12.8, 2007,12.6, 2009,12.4, 2011,12.2, 2013,12.0],
  "Australia": [1955,18.2, 1956,18.8, 1957,19.5, 1958,18.5, 1959,18.8, 1960,18.3, 1961,17.6, 1962,17.4, 1963,18.0, 1964,18.6, 1965,19.2, 1966,18.8, 1967,19.4, 1968,19.2, 1969,19.8, 1970,19.5, 1972,19.4, 1974,19.8, 1976,20.3, 1978,20.5, 1980,21.0, 1982,21.5, 1983,21.9, 1984,21.4, 1985,21.8, 1986,21.5, 1987,21.9, 1988,21.6, 1990,20.8, 1992,20.2, 1994,19.5, 1996,19.0, 1998,18.2, 2000,17.5, 2002,16.5, 2004,15.5, 2006,14.5, 2008,13.2, 2010,12.0, 2012,11.0, 2013,10.5],
  "China": [1966,13.0, 1967,17.5, 1968,15.0, 1969,16.0, 1970,22.0, 1971,15.0, 1972,16.5, 1973,14.5, 1974,16.0, 1975,13.0, 1976,14.5, 1977,15.5, 1978,13.0, 1979,14.0, 1980,14.8, 1981,13.5, 1982,14.5, 1983,15.5, 1984,14.2, 1985,15.0, 1986,16.0, 1987,15.0, 1988,15.5, 1990,17.0, 1992,16.0, 1994,18.0, 1996,18.5, 1998,17.5, 2000,18.5, 2002,17.0, 2004,17.5, 2006,16.5, 2008,16.5, 2010,15.8, 2012,15.5, 2013,15.2]
};

// ---------------------------------------------------------------
// F. Breast cancer
// ---------------------------------------------------------------
const breastFemale = {
  "South Africa": [1993,11.5, 1994,12.3, 1995,11.0, 1996,11.3, 1997,10.5, 1998,11.0, 1999,11.7, 2000,12.2, 2001,11.3, 2002,11.6, 2003,12.5, 2004,11.8, 2005,12.6, 2006,11.5, 2007,12.4, 2008,12.8, 2009,11.8, 2010,12.2, 2011,11.7, 2012,12.1, 2013,11.8],
  "Egypt": [1955,2.0, 1957,2.1, 1959,2.0, 1961,2.3, 1962,2.4, 1963,null, 2000,5.2, 2002,5.6, 2004,5.7, 2006,5.8, 2008,6.0, 2010,6.1, 2011,6.3],
  "South Korea": [1985,2.5, 1987,2.7, 1989,3.0, 1991,3.3, 1993,3.6, 1995,3.9, 1997,4.0, 1999,4.2, 2001,4.4, 2003,4.7, 2005,4.9, 2007,5.0, 2009,5.1, 2011,5.3, 2013,5.6],
  "Thailand": [1957,0.4, 1960,0.5, 1963,0.6, 1966,0.7, 1969,0.8, 1972,0.8, 1975,0.9, 1978,1.0, 1981,1.3, 1983,1.1, 1985,0.9, 1986,null, 1988,1.2, 1989,null, 1991,1.5, 1993,1.7, 1995,1.9, 1997,2.0, 1998,2.5, 1999,3.8, 2000,4.6, 2002,4.9, 2004,5.1, 2006,5.2, 2008,5.5, 2010,5.8, 2012,6.3, 2013,6.6],
  "Brazil": [1979,9.2, 1982,9.4, 1985,9.7, 1988,10.1, 1991,10.5, 1994,10.8, 1997,11.0, 2000,11.3, 2003,11.4, 2006,11.5, 2009,11.6, 2013,11.7],
  "Canada": [1950,22.4, 1951,22.2, 1952,22.6, 1953,23.0, 1954,22.3, 1955,22.5, 1956,23.1, 1957,22.8, 1958,23.3, 1959,23.6, 1960,23.0, 1961,23.4, 1962,23.8, 1963,23.4, 1964,24.0, 1965,23.6, 1966,24.0, 1967,24.4, 1968,23.7, 1969,24.0, 1970,23.8, 1971,23.5, 1972,24.0, 1973,23.6, 1974,23.3, 1975,23.8, 1976,23.2, 1977,23.4, 1978,22.8, 1980,22.9, 1982,22.8, 1983,23.2, 1984,23.5, 1985,24.0, 1986,23.8, 1987,23.5, 1988,23.2, 1989,23.1, 1990,22.6, 1991,22.3, 1993,21.7, 1995,20.8, 1997,19.5, 1999,18.3, 2001,17.2, 2003,16.3, 2005,15.5, 2007,14.8, 2009,14.1, 2011,13.6, 2013,13.2],
  "Mexico": [1955,2.7, 1957,3.5, 1960,3.5, 1963,3.8, 1966,4.1, 1969,4.6, 1972,5.0, 1975,5.5, 1978,5.8, 1981,6.3, 1984,6.8, 1987,7.5, 1990,8.0, 1993,8.4, 1996,8.6, 1999,8.8, 2002,9.0, 2005,9.2, 2008,9.3, 2011,9.4, 2013,9.0],
  "US": [1950,20.5, 1953,20.7, 1956,21.0, 1959,21.2, 1962,21.5, 1965,21.7, 1968,21.9, 1971,22.1, 1974,22.0, 1977,21.9, 1980,21.8, 1983,22.1, 1986,22.4, 1989,22.3, 1991,21.6, 1993,20.8, 1995,19.8, 1997,18.7, 1999,17.6, 2001,16.7, 2003,15.9, 2005,15.2, 2007,14.6, 2009,14.1, 2011,13.6, 2013,13.3],
  "Germany": [1973,19.3, 1975,19.6, 1977,19.3, 1979,19.8, 1981,20.3, 1983,20.9, 1985,21.5, 1987,21.8, 1989,22.2, 1991,22.4, 1993,22.1, 1995,21.4, 1997,20.7, 1999,19.9, 2001,18.9, 2003,18.1, 2005,17.5, 2007,17.0, 2009,16.8, 2011,16.5, 2013,16.1],
  "Russia": [1980,11.0, 1982,11.6, 1984,12.3, 1986,13.0, 1988,13.8, 1990,14.6, 1992,15.4, 1994,15.9, 1996,16.1, 1998,16.4, 2000,16.6, 2002,16.8, 2004,16.8, 2006,17.0, 2008,16.9, 2010,16.7, 2011,16.5],
  "Sweden": [1951,15.5, 1952,19.5, 1953,18.9, 1954,19.6, 1955,18.6, 1956,19.2, 1957,18.8, 1958,19.7, 1959,19.0, 1960,19.3, 1961,18.6, 1962,20.2, 1963,19.5, 1964,18.5, 1965,18.2, 1966,19.0, 1967,18.6, 1968,19.4, 1969,19.0, 1970,19.8, 1971,19.2, 1972,20.5, 1973,19.6, 1974,19.0, 1975,19.4, 1976,18.7, 1978,18.6, 1980,18.4, 1982,18.2, 1984,18.1, 1986,18.0, 1988,17.8, 1990,17.5, 1992,16.9, 1994,16.2, 1996,15.9, 1998,15.2, 2000,15.0, 2002,14.6, 2004,14.2, 2006,13.8, 2008,13.4, 2010,13.0, 2013,12.7],
  "Australia": [1950,20.0, 1951,20.3, 1952,19.6, 1953,20.0, 1955,19.6, 1957,19.2, 1959,19.5, 1961,19.0, 1962,18.3, 1963,19.2, 1965,19.6, 1967,19.1, 1969,19.5, 1971,19.3, 1973,19.7, 1975,19.5, 1977,19.3, 1979,19.6, 1981,20.0, 1983,20.2, 1985,20.6, 1987,20.9, 1989,20.7, 1991,20.3, 1993,19.6, 1995,19.0, 1997,18.1, 1999,17.3, 2001,16.6, 2003,15.9, 2005,15.2, 2007,14.4, 2009,13.8, 2011,13.3, 2013,13.0],
  "China": [1956,7.2, 1957,6.5, 1958,5.8, 1959,7.8, 1960,8.7, 1961,9.6, 1962,8.8, 1963,9.5, 1964,8.6, 1965,9.8, 1966,9.2, 1967,8.7, 1968,9.4, 1969,9.0, 1970,10.0, 1971,9.6, 1972,10.3, 1973,9.7, 1974,9.3, 1975,9.6, 1976,9.0, 1977,9.3, 1978,8.8, 1979,9.3, 1980,9.5, 1981,8.6, 1982,9.0, 1983,8.2, 1984,8.9, 1985,8.6, 1987,9.1, 1989,8.8, 1991,9.1, 1993,8.6, 1995,8.9, 1997,8.4, 1999,8.6, 2001,8.2, 2003,8.5, 2005,8.4, 2007,8.6, 2009,8.7, 2011,8.8, 2013,8.7]
};

// ---------------------------------------------------------------
// Layout
// ---------------------------------------------------------------
const panels = [
  { letter: "A", title: "All Cancers", box: [55, 5, 530, 310], letterX: 79, titleX: 323,
    plots: [ { label: "female", data: allFemale, ticks: ticksAllFemale, rect: [100, 86, 297, 277] },
             { label: "male", data: allMale, ticks: ticksAllMale, rect: [351, 86, 553, 277] } ] },
  { letter: "B", title: "Lung cancer", box: [600, 5, 535, 310], letterX: 619, titleX: 866,
    plots: [ { label: "female", data: lungFemale, ticks: ticksLungFemale, rect: [645, 89, 851, 279] },
             { label: "male", data: lungMale, ticks: ticksLungMale, rect: [901, 89, 1108, 279] } ] },
  { letter: "C", title: "Liver cancer", box: [55, 345, 530, 310], letterX: 66, titleX: 322,
    plots: [ { label: "female", data: liverFemale, ticks: ticksLiverFemale, rect: [99, 424, 306, 614] },
             { label: "male", data: liverMale, ticks: ticksLiverMale, rect: [354, 424, 560, 614] } ] },
  { letter: "D", title: "Stomach cancer", box: [600, 345, 535, 310], letterX: 619, titleX: 867,
    plots: [ { label: "female", data: stomachFemale, ticks: ticksStomachFemale, rect: [645, 424, 851, 614] },
             { label: "male", data: stomachMale, ticks: ticksStomachMale, rect: [901, 424, 1108, 614] } ] },
  { letter: "E", title: "Colorectal cancer", box: [55, 685, 530, 310], letterX: 66, titleX: 323,
    plots: [ { label: "female", data: colorectalFemale, ticks: ticksColorectal, rect: [99, 768, 306, 959] },
             { label: "male", data: colorectalMale, ticks: ticksColorectal, rect: [354, 768, 560, 959] } ] },
  { letter: "F", title: "Breast cancer", box: [600, 685, 270, 310], letterX: 617, titleX: 728,
    plots: [ { label: "female", data: breastFemale, ticks: ticksBreast, rect: [645, 768, 852, 959] } ] }
];

// Later entries are drawn on top.
const drawOrder = ["China", "Australia", "Sweden", "Russia", "Brazil", "Mexico",
                   "Canada", "US", "Germany", "Thailand", "Egypt", "South Africa", "South Korea"];

const color = d3.scaleOrdinal().domain(countries).range(countryColors);

const svg = d3.select("#chart");

// soft drop shadow for the panel cards
const defs = svg.append("defs");
const shadow = defs.append("filter").attr("id", "cardShadow")
  .attr("x", "-5%").attr("y", "-5%").attr("width", "110%").attr("height", "110%");
shadow.append("feDropShadow").attr("dx", 1).attr("dy", 2)
  .attr("stdDeviation", 4).attr("flood-color", "#000").attr("flood-opacity", 0.42);

function toPoints(flat) {
  const pts = [];
  for (let i = 0; i < flat.length; i += 2) pts.push({ year: flat[i], value: flat[i + 1] });
  return pts;
}

panels.forEach(p => {
  const [bx, by, bw, bh] = p.box;
  const card = svg.append("g");
  card.append("rect").attr("x", bx).attr("y", by).attr("width", bw).attr("height", bh)
    .attr("fill", "#fff").attr("filter", "url(#cardShadow)");

  card.append("text").attr("x", p.letterX).attr("y", by + 51)
    .attr("font-size", 20).attr("fill", "#111").text(p.letter);
  card.append("text").attr("x", p.titleX).attr("y", by + 53)
    .attr("text-anchor", "middle").attr("font-size", 24).attr("font-weight", "bold")
    .attr("fill", "#000").text(p.title);

  p.plots.forEach(pl => {
    const [x0, y0, x1, y1] = pl.rect;
    const x = d3.scaleLinear().domain([1940, 2020]).range([x0, x1]);
    const y = d3.scaleLinear().domain([0, d3.max(pl.ticks)]).range([y1, y0]);
    const g = card.append("g");

    const xAxis = g.append("g").attr("transform", `translate(0,${y1})`)
      .call(d3.axisBottom(x).tickValues(yearTicks).tickFormat(d3.format("d"))
        .tickSize(4).tickSizeOuter(0).tickPadding(6));
    const yAxis = g.append("g").attr("transform", `translate(${x0},0)`)
      .call(d3.axisLeft(y).tickValues(pl.ticks).tickSize(4).tickSizeOuter(0).tickPadding(6));
    [xAxis, yAxis].forEach(a => {
      a.select(".domain").remove();
      a.selectAll(".tick line").attr("stroke", "#404040").attr("stroke-width", 1.2);
      a.selectAll(".tick text").attr("font-size", 13.5).attr("fill", "#262626")
        .attr("font-family", "'Liberation Sans', Arial, sans-serif");
    });

    const line = d3.line()
      .defined(d => d.value !== null)
      .x(d => x(d.year))
      .y(d => y(d.value));

    const lines = g.append("g")
      .attr("fill", "none").attr("stroke-width", 3.8)
      .attr("stroke-linejoin", "round").attr("stroke-linecap", "butt");
    drawOrder.forEach(c => {
      if (!pl.data[c]) return;
      lines.append("path")
        .attr("d", line(toPoints(pl.data[c])))
        .attr("stroke", color(c));
    });

    g.append("rect").attr("x", x0).attr("y", y0)
      .attr("width", x1 - x0).attr("height", y1 - y0)
      .attr("fill", "none").attr("stroke", "#3a3a3a").attr("stroke-width", 1.3);

    g.append("text").attr("x", x0 + 7).attr("y", y0 + 19)
      .attr("font-size", 14.5).attr("fill", "#222").text(pl.label);
  });
});

// axis titles shared by all panels
svg.append("text")
  .attr("transform", "translate(30,490) rotate(-90)")
  .attr("text-anchor", "middle").attr("font-size", 24).attr("fill", "#222")
  .attr("textLength", 584).attr("lengthAdjust", "spacingAndGlyphs")
  .text("Age-standardized Mortality Rates per 100,000");
svg.append("text")
  .attr("x", 600).attr("y", 1030).attr("text-anchor", "middle")
  .attr("font-size", 24).attr("fill", "#222").text("Year");

// legend: three groups, two columns
const legendLeft = [["South Africa", 0], ["Egypt", 94], ["South Korea", 178], ["Thailand", 197]];
const legendRight = [["Brazil", 0], ["Canada", 18.5], ["Mexico", 37], ["US", 55.5],
                     ["Germany", 94], ["Russia", 113], ["Sweden", 132],
                     ["Australia", 178], ["China", 197]];
const legend = svg.append("g").attr("transform", "translate(904,745)");
function legendItem(name, dx, dy) {
  const it = legend.append("g").attr("transform", `translate(${dx},${dy})`);
  it.append("rect").attr("width", 13).attr("height", 12.5).attr("fill", color(name));
  it.append("text").attr("x", 21).attr("y", 11.5).attr("font-size", 15.5)
    .attr("fill", "#222").text(name);
}
legendLeft.forEach(([n, dy]) => legendItem(n, 0, dy));
legendRight.forEach(([n, dy]) => legendItem(n, 125, dy));
</script>
</body>
</html>
